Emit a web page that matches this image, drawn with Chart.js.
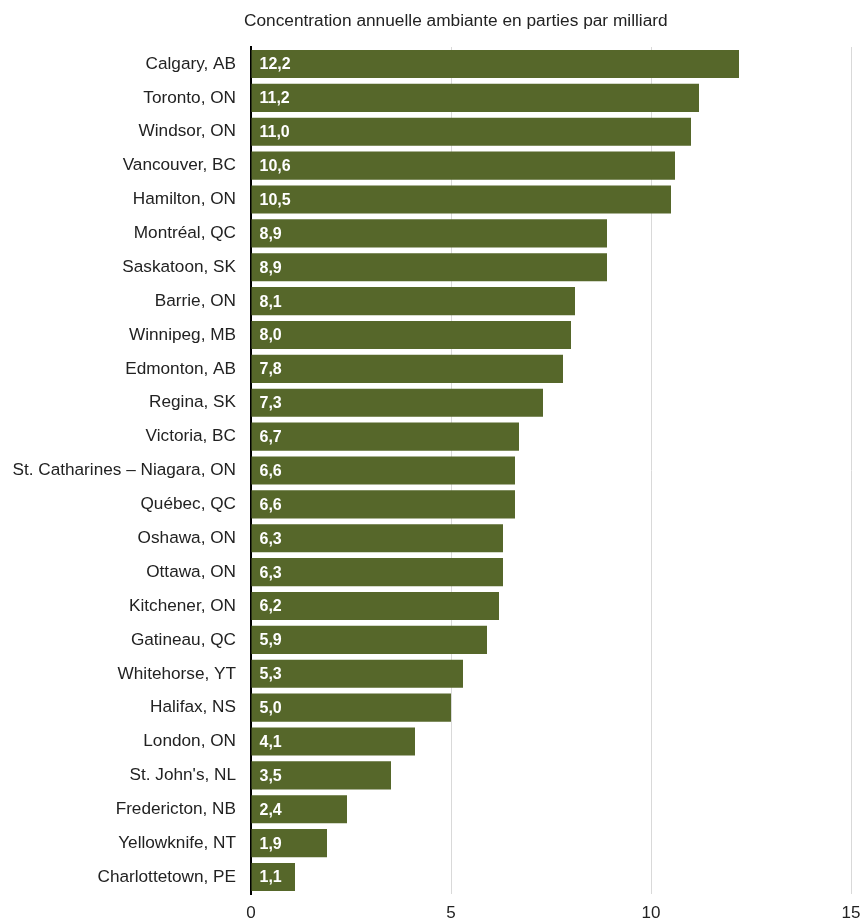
<!DOCTYPE html>
<html>
<head>
<meta charset="utf-8">
<script src="https://cdn.jsdelivr.net/npm/chart.js@4"></script>
<style>
  html, body { margin: 0; padding: 0; background: #fff; }
  #wrap { width: 866px; height: 921px; }
</style>
</head>
<body>
<div id="wrap"><canvas id="chart"></canvas></div>
<script>
// villes et concentrations (ppb)
var cities = ["Calgary, AB", "Toronto, ON", "Windsor, ON", "Vancouver, BC", "Hamilton, ON",
  "Montréal, QC", "Saskatoon, SK", "Barrie, ON", "Winnipeg, MB", "Edmonton, AB",
  "Regina, SK", "Victoria, BC", "St. Catharines – Niagara, ON", "Québec, QC", "Oshawa, ON",
  "Ottawa, ON", "Kitchener, ON", "Gatineau, QC", "Whitehorse, YT", "Halifax, NS",
  "London, ON", "St. John's, NL", "Fredericton, NB", "Yellowknife, NT", "Charlottetown, PE"];
var values = [12.2, 11.2, 11.0, 10.6, 10.5, 8.9, 8.9, 8.1, 8.0, 7.8,
  7.3, 6.7, 6.6, 6.6, 6.3, 6.3, 6.2, 5.9, 5.3, 5.0,
  4.1, 3.5, 2.4, 1.9, 1.1];
var xTicks = [0, 5, 10, 15];
var titleText = "Concentration annuelle ambiante en parties par milliard";

var fontFam = "'Liberation Sans', Arial, sans-serif";

// valeurs dans les barres + titre au-dessus
var labelPlugin = {
  id: 'labels',
  afterDatasetsDraw: function(chart) {
    var ctx = chart.ctx;
    var meta = chart.getDatasetMeta(0);
    ctx.save();
    ctx.fillStyle = '#ffffff';
    ctx.font = 'bold 16px ' + fontFam;
    ctx.textBaseline = 'middle';
    ctx.textAlign = 'left';
    meta.data.forEach(function(bar, i) {
      ctx.fillText(values[i].toFixed(1).replace('.', ','), bar.base + 8, bar.y + 1);
    });
    ctx.fillStyle = '#222';
    ctx.font = '17.3px ' + fontFam;
    ctx.fillText(titleText, 244, 21);
    ctx.restore();
  }
};

new Chart(document.getElementById('chart'), {
  type: 'bar',
  data: {
    labels: cities,
    datasets: [{
      data: values,
      backgroundColor: '#56672a',
      borderWidth: 0,
      barPercentage: 0.83,
      categoryPercentage: 1
    }]
  },
  options: {
    indexAxis: 'y',
    responsive: true,
    maintainAspectRatio: false,
    animation: false,
    layout: { padding: { top: 47, right: 15, bottom: 0, left: 0 } },
    plugins: { legend: { display: false }, tooltip: { enabled: false } },
    scales: {
      x: {
        min: 0, max: 15,
        afterBuildTicks: function(s) { s.ticks = xTicks.map(function(v) { return { value: v }; }); },
        afterFit: function(s) { s.height = 27; s.paddingRight = 0; s.paddingLeft = 0; },
        grid: { color: '#d9d9d9', drawTicks: false },
        border: { display: false },
        ticks: { color: '#222', padding: 9, font: { size: 17, family: fontFam } }
      },
      y: {
        afterFit: function(s) { s.width = 251; },
        grid: { display: false },
        border: { color: '#000', width: 2 },
        ticks: { color: '#222', padding: 7, font: { size: 17.2, family: fontFam } }
      }
    }
  },
  plugins: [labelPlugin]
});
</script>
</body>
</html>
